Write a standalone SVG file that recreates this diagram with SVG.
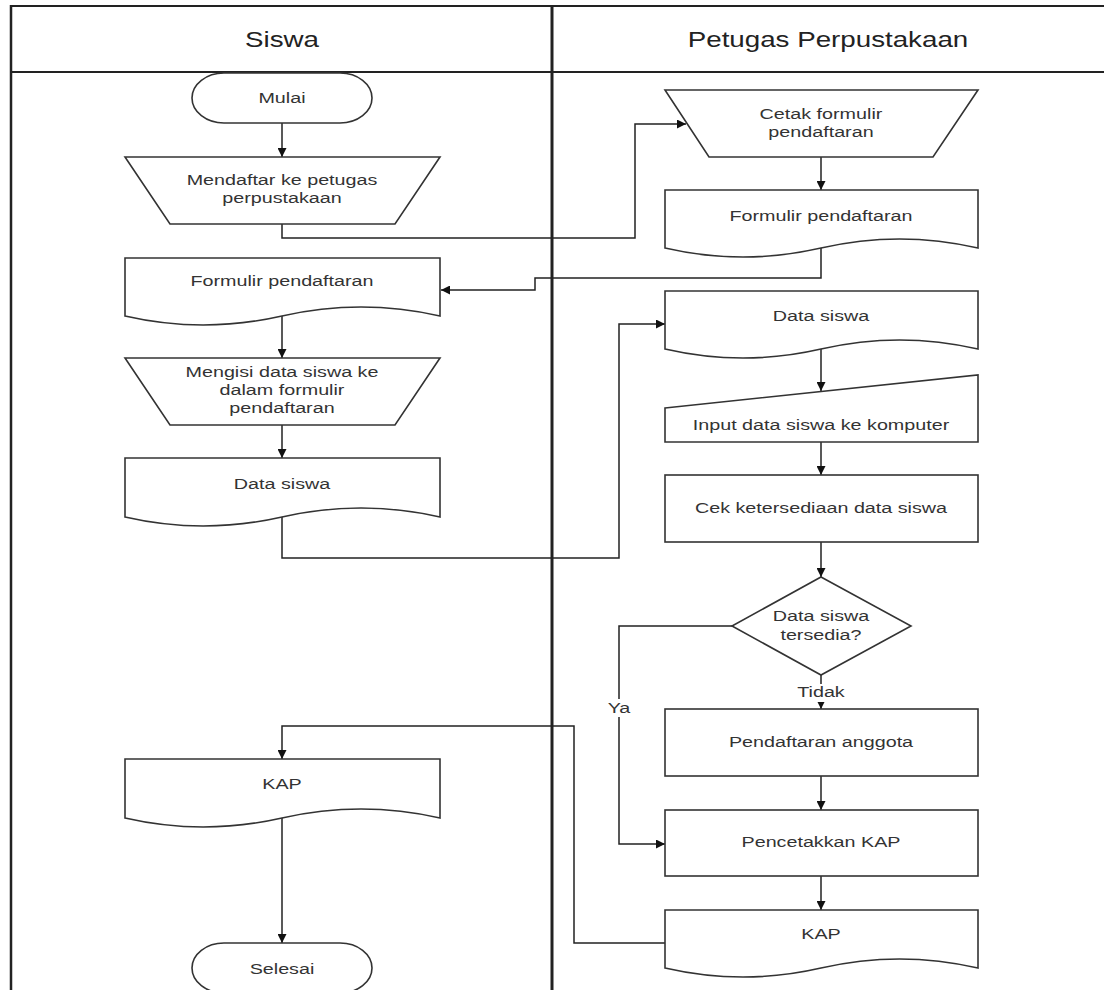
<svg xmlns="http://www.w3.org/2000/svg" width="1104" height="990" viewBox="0 0 1104 990">
  <style>
    .frame{stroke:#222;fill:none}
    .shape{fill:#fff;stroke:#333;stroke-width:1.6}
    .conn{fill:none;stroke:#222;stroke-width:1.5}
    text{font-family:"Liberation Sans",Arial,sans-serif;font-size:15.3px;fill:#333;text-anchor:middle}
    .hdr{font-size:21.5px;fill:#222}
    .lbl{fill:#fff;stroke:none}
  </style>
  <defs>
    <marker id="arr" viewBox="0 0 10 10" refX="10" refY="5" markerWidth="9" markerHeight="9" markerUnits="userSpaceOnUse" orient="auto">
      <path d="M0,0 L10,5 L0,10 Z" fill="#111"/>
    </marker>
  </defs>
  <rect width="1104" height="990" fill="#fff"/>

  <g id="lanes">
    <line class="frame" x1="11" y1="6" x2="1104" y2="6" stroke-width="2"/>
    <line class="frame" x1="11" y1="72" x2="1104" y2="72" stroke-width="2"/>
    <line class="frame" x1="11" y1="5" x2="11" y2="990" stroke-width="2.5"/>
    <line class="frame" x1="552" y1="5" x2="552" y2="990" stroke-width="3"/>
    <text class="hdr" x="282" y="47" transform="matrix(1.29 0 0 1 -81.78 0)">Siswa</text>
    <text class="hdr" x="828" y="47" transform="matrix(1.29 0 0 1 -240.12 0)">Petugas Perpustakaan</text>
  </g>

  <g id="connectors">
    <path class="conn" d="M282,123 V157" marker-end="url(#arr)"/>
    <path class="conn" d="M282,224 V238 H635 V124 H686" marker-end="url(#arr)"/>
    <path class="conn" d="M821,157 V190" marker-end="url(#arr)"/>
    <path class="conn" d="M821,248 V278 H535 V290 H441" marker-end="url(#arr)"/>
    <path class="conn" d="M282,316 V358" marker-end="url(#arr)"/>
    <path class="conn" d="M282,425 V458" marker-end="url(#arr)"/>
    <path class="conn" d="M282,517 V558 H619 V324 H665" marker-end="url(#arr)"/>
    <path class="conn" d="M821,349 V391" marker-end="url(#arr)"/>
    <path class="conn" d="M821,442 V475" marker-end="url(#arr)"/>
    <path class="conn" d="M821,542 V577" marker-end="url(#arr)"/>
    <path class="conn" d="M821,675 V709" marker-end="url(#arr)"/>
    <path class="conn" d="M732,626 H619 V844 H665" marker-end="url(#arr)"/>
    <path class="conn" d="M821,776 V810" marker-end="url(#arr)"/>
    <path class="conn" d="M821,876 V910" marker-end="url(#arr)"/>
    <path class="conn" d="M665,943 H574 V726 H282 V759" marker-end="url(#arr)"/>
    <path class="conn" d="M282,818 V943" marker-end="url(#arr)"/>
    <rect class="lbl" x="797" y="684" width="48" height="18"/>
    <text x="821" y="697" transform="matrix(1.29 0 0 1 -238.09 0)">Tidak</text>
    <rect class="lbl" x="606" y="699" width="26" height="18"/>
    <text x="619" y="713" transform="matrix(1.29 0 0 1 -179.51 0)">Ya</text>
  </g>

  <g id="mulai">
    <rect class="shape" x="192" y="73" width="180" height="50" rx="32" ry="25"/>
    <text x="282" y="103" transform="matrix(1.29 0 0 1 -81.78 0)">Mulai</text>
  </g>

  <g id="mendaftar">
    <path class="shape" d="M125,157 H440 L395,224 H170 Z"/>
    <text x="282" y="185" transform="matrix(1.29 0 0 1 -81.78 0)">Mendaftar ke petugas</text>
    <text x="282" y="203" transform="matrix(1.29 0 0 1 -81.78 0)">perpustakaan</text>
  </g>

  <g id="formulir-siswa">
    <path class="shape" d="M125,258 H440 V316 C387,304 335,304 282,316 C229,328 177,328 125,316 Z"/>
    <text x="282" y="286" transform="matrix(1.29 0 0 1 -81.78 0)">Formulir pendaftaran</text>
  </g>

  <g id="mengisi">
    <path class="shape" d="M125,358 H440 L395,425 H170 Z"/>
    <text x="282" y="377" transform="matrix(1.29 0 0 1 -81.78 0)">Mengisi data siswa ke</text>
    <text x="282" y="395" transform="matrix(1.29 0 0 1 -81.78 0)">dalam formulir</text>
    <text x="282" y="413" transform="matrix(1.29 0 0 1 -81.78 0)">pendaftaran</text>
  </g>

  <g id="data-siswa-siswa">
    <path class="shape" d="M125,458 H440 V517 C387,505 335,505 282,517 C229,529 177,529 125,517 Z"/>
    <text x="282" y="489" transform="matrix(1.29 0 0 1 -81.78 0)">Data siswa</text>
  </g>

  <g id="kap-siswa">
    <path class="shape" d="M125,759 H440 V818 C387,806 335,806 282,818 C229,830 177,830 125,818 Z"/>
    <text x="282" y="789" transform="matrix(1.29 0 0 1 -81.78 0)">KAP</text>
  </g>

  <g id="selesai">
    <rect class="shape" x="192" y="943" width="180" height="50" rx="32" ry="25"/>
    <text x="282" y="974" transform="matrix(1.29 0 0 1 -81.78 0)">Selesai</text>
  </g>

  <g id="cetak">
    <path class="shape" d="M665,90 H978 L933,157 H709 Z"/>
    <text x="821" y="119" transform="matrix(1.29 0 0 1 -238.09 0)">Cetak formulir</text>
    <text x="821" y="137" transform="matrix(1.29 0 0 1 -238.09 0)">pendaftaran</text>
  </g>

  <g id="formulir-petugas">
    <path class="shape" d="M665,190 H978 V248 C926,236 873,236 821,248 C769,260 717,260 665,248 Z"/>
    <text x="821" y="221" transform="matrix(1.29 0 0 1 -238.09 0)">Formulir pendaftaran</text>
  </g>

  <g id="data-siswa-petugas">
    <path class="shape" d="M665,291 H978 V349 C926,337 873,337 821,349 C769,361 717,361 665,349 Z"/>
    <text x="821" y="321" transform="matrix(1.29 0 0 1 -238.09 0)">Data siswa</text>
  </g>

  <g id="input">
    <path class="shape" d="M665,408 L978,375 V442 H665 Z"/>
    <text x="821" y="430" transform="matrix(1.29 0 0 1 -238.09 0)">Input data siswa ke komputer</text>
  </g>

  <g id="cek">
    <rect class="shape" x="665" y="475" width="313" height="67"/>
    <text x="821" y="513" transform="matrix(1.29 0 0 1 -238.09 0)">Cek ketersediaan data siswa</text>
  </g>

  <g id="decision">
    <path class="shape" d="M821,577 L911,626 L821,675 L732,626 Z"/>
    <text x="821" y="621" transform="matrix(1.29 0 0 1 -238.09 0)">Data siswa</text>
    <text x="821" y="640" transform="matrix(1.29 0 0 1 -238.09 0)">tersedia?</text>
  </g>

  <g id="pendaftaran">
    <rect class="shape" x="665" y="709" width="313" height="67"/>
    <text x="821" y="747" transform="matrix(1.29 0 0 1 -238.09 0)">Pendaftaran anggota</text>
  </g>

  <g id="pencetakkan">
    <rect class="shape" x="665" y="810" width="313" height="66"/>
    <text x="821" y="847" transform="matrix(1.29 0 0 1 -238.09 0)">Pencetakkan KAP</text>
  </g>

  <g id="kap-petugas">
    <path class="shape" d="M665,910 H978 V968 C926,956 873,956 821,968 C769,980 717,980 665,968 Z"/>
    <text x="821" y="939" transform="matrix(1.29 0 0 1 -238.09 0)">KAP</text>
  </g>
</svg>
